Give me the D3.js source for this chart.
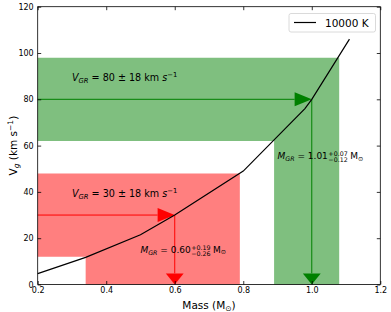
<!DOCTYPE html>
<html>
<head>
<meta charset="utf-8">
<script src="https://cdn.jsdelivr.net/npm/d3@7"></script>
<style>
  body { margin: 0; background: #fff; }
  svg { display: block; font-family: "DejaVu Sans", sans-serif; }
</style>
</head>
<body>
<div class="canvas"></div>
<script>
// model curve, 10000 K
const massGrid = [0.2, 0.34, 0.5, 0.6, 0.8, 0.98, 1.0, 1.11];
const vgCurve  = [4.7, 11.7, 21.5, 30, 49, 76, 80, 106];
const curveName = "10000 K";

// the two measured redshifts and masses
const vgrValues = [30, 80];
const vgrErrors = [18, 18];
const massValues = [0.60, 1.01];
const massPlus = [0.19, 0.07];
const massMinus = [0.26, 0.12];
const arrowMass = [0.6, 1.0];
const massText = ["0.60", "1.01"];
const plusText = ["+0.19", "+0.07"];
const minusText = ["\u22120.26", "\u22120.12"];
const colors = ["red", "green"];
const fills = ["#ff7f7f", "#7fbf7f"];

const xTicks = [0.2, 0.4, 0.6, 0.8, 1.0, 1.2];
const yTicks = [0, 20, 40, 60, 80, 100, 120];

const dim = {width: 391, height: 312};
const margin = {left: 37.7, top: 6.7, right: 10.7, bottom: 27.5};
const w = dim.width - margin.left - margin.right;
const h = dim.height - margin.top - margin.bottom;

const svg = d3.select('.canvas').append('svg')
  .attr('width', dim.width)
  .attr('height', dim.height);

const g = svg.append('g').attr('transform', `translate(${margin.left},${margin.top})`);

const x = d3.scaleLinear().domain([0.2, 1.2]).range([0, w]);
const y = d3.scaleLinear().domain([0, 120]).range([h, 0]);

// shaded regions (L shaped, no overlap)
vgrValues.forEach((v, i) => {
  const lo = massValues[i] - massMinus[i], hi = massValues[i] + massPlus[i];
  const pts = [[0.2, v + vgrErrors[i]], [hi, v + vgrErrors[i]], [hi, 0], [lo, 0],
               [lo, v - vgrErrors[i]], [0.2, v - vgrErrors[i]]];
  g.append('path')
    .attr('d', d3.line().x(d => x(d[0])).y(d => y(d[1]))(pts) + 'Z')
    .attr('fill', fills[i]);
});

// arrows
vgrValues.forEach((v, i) => {
  const m = arrowMass[i];
  const c = colors[i];
  const hl = 0.05, hw = 6;   // horizontal head (x length, y width)
  const vl = 4.8, vw = 0.052; // vertical head (y length, x width)
  g.append('line')
    .attr('x1', x(0.2)).attr('x2', x(m - hl))
    .attr('y1', y(v)).attr('y2', y(v))
    .attr('stroke', c).attr('stroke-width', 1);
  g.append('path')
    .attr('d', `M${x(m - hl)},${y(v + hw / 2)}L${x(m)},${y(v)}L${x(m - hl)},${y(v - hw / 2)}Z`)
    .attr('fill', c);
  g.append('line')
    .attr('x1', x(m)).attr('x2', x(m))
    .attr('y1', y(v)).attr('y2', y(vl))
    .attr('stroke', c).attr('stroke-width', 1);
  g.append('path')
    .attr('d', `M${x(m - vw / 2)},${y(vl)}L${x(m)},${y(0)}L${x(m + vw / 2)},${y(vl)}Z`)
    .attr('fill', c);
});

// curve
g.append('path')
  .datum(massGrid.map((m, i) => [m, vgCurve[i]]))
  .attr('d', d3.line().x(d => x(d[0])).y(d => y(d[1])))
  .attr('fill', 'none')
  .attr('stroke', 'black')
  .attr('stroke-width', 1.2);

// V_GR labels
vgrValues.forEach((v, i) => {
  const t = g.append('text')
    .attr('x', x(0.3)).attr('y', y(v + 7.8))
    .attr('font-size', 9.6).attr('fill', 'black');
  t.append('tspan').attr('font-style', 'italic').text('V');
  t.append('tspan').attr('font-style', 'italic').attr('font-size', 6.8).attr('dy', 2).text('GR');
  t.append('tspan').attr('dy', -2).text(` = ${v} \u00b1 ${vgrErrors[i]} km `);
  t.append('tspan').attr('font-style', 'italic').text('s');
  t.append('tspan').attr('font-size', 6.8).attr('dy', -4).text('\u22121');
});

// M_GR labels
const mPos = [[0.5, 13.7], [0.9, 54]];
vgrValues.forEach((v, i) => {
  const fs = 9;
  const x0 = x(mPos[i][0]), y0 = y(mPos[i][1]);
  const t = g.append('text').attr('x', x0).attr('y', y0).attr('font-size', fs);
  t.append('tspan').attr('font-style', 'italic').text('M');
  t.append('tspan').attr('font-style', 'italic').attr('font-size', fs * 0.7).attr('dy', 2).text('GR');
  t.append('tspan').attr('dy', -2).text(` = ${massText[i]}`);
  const len = t.node().getComputedTextLength();
  const sup = g.append('text').attr('x', x0 + len + 0.5).attr('y', y0 - 3.2)
    .attr('font-size', fs * 0.7).text(plusText[i]);
  const sub = g.append('text').attr('x', x0 + len + 0.5).attr('y', y0 + 2.8)
    .attr('font-size', fs * 0.7).text(minusText[i]);
  const sl = Math.max(sup.node().getComputedTextLength(), sub.node().getComputedTextLength());
  const tm = g.append('text').attr('x', x0 + len + sl + 3).attr('y', y0).attr('font-size', fs);
  tm.append('tspan').text('M');
  tm.append('tspan').attr('font-size', fs * 0.7).attr('dy', 1.5).text('\u2299');
});

// axes, inward ticks on all sides
const xAxis = d3.axisBottom(x).tickValues(xTicks).tickFormat(d3.format('.1f'))
  .tickSizeInner(-3.5).tickSizeOuter(0).tickPadding(2.5);
const yAxis = d3.axisLeft(y).tickValues(yTicks).tickFormat(d3.format('d'))
  .tickSizeInner(-3.5).tickSizeOuter(0).tickPadding(4);
const xAxisTop = d3.axisTop(x).tickValues(xTicks).tickFormat('').tickSizeInner(-3.5).tickSizeOuter(0);
const yAxisRight = d3.axisRight(y).tickValues(yTicks).tickFormat('').tickSizeInner(-3.5).tickSizeOuter(0);

const xg = g.append('g').attr('transform', `translate(0,${h})`).call(xAxis);
const yg = g.append('g').call(yAxis);
const xtg = g.append('g').call(xAxisTop);
const yrg = g.append('g').attr('transform', `translate(${w},0)`).call(yAxisRight);
[xg, yg, xtg, yrg].forEach(a => {
  a.select('.domain').remove();
  a.selectAll('text').attr('font-size', 8).attr('font-family', '"DejaVu Sans", sans-serif').attr('fill', 'black');
  a.selectAll('line').attr('stroke', 'black').attr('stroke-width', 0.8);
});

g.append('rect')
  .attr('width', w).attr('height', h)
  .attr('fill', 'none').attr('stroke', 'black').attr('stroke-width', 0.8);

// axis labels
const xl = svg.append('text')
  .attr('x', margin.left + w / 2).attr('y', 309)
  .attr('text-anchor', 'middle').attr('font-size', 10.5);
xl.append('tspan').text('Mass (M');
xl.append('tspan').attr('font-size', 7.5).attr('dy', 2).text('\u2299');
xl.append('tspan').attr('dy', -2).text(')');

const yl = svg.append('text')
  .attr('transform', `translate(17,${margin.top + h / 2}) rotate(-90)`)
  .attr('text-anchor', 'middle').attr('font-size', 10.5);
yl.append('tspan').text('V');
yl.append('tspan').attr('font-style', 'italic').attr('font-size', 7.5).attr('dy', 2).text('g');
yl.append('tspan').attr('dy', -2).text(' (km s');
yl.append('tspan').attr('font-size', 7.5).attr('dy', -4).text('\u22121');
yl.append('tspan').attr('dy', 4).text(')');

// legend
const lg = svg.append('g');
lg.append('rect')
  .attr('x', 289).attr('y', 13.5).attr('width', 86.5).attr('height', 18.5)
  .attr('rx', 2).attr('fill', 'white').attr('stroke', '#d0d0d0').attr('stroke-width', 0.8);
lg.append('line')
  .attr('x1', 294).attr('x2', 316).attr('y1', 22.5).attr('y2', 22.5)
  .attr('stroke', 'black').attr('stroke-width', 1.2);
lg.append('text')
  .attr('x', 325).attr('y', 26.5).attr('font-size', 10.5).text(curveName);
</script>
</body>
</html>
